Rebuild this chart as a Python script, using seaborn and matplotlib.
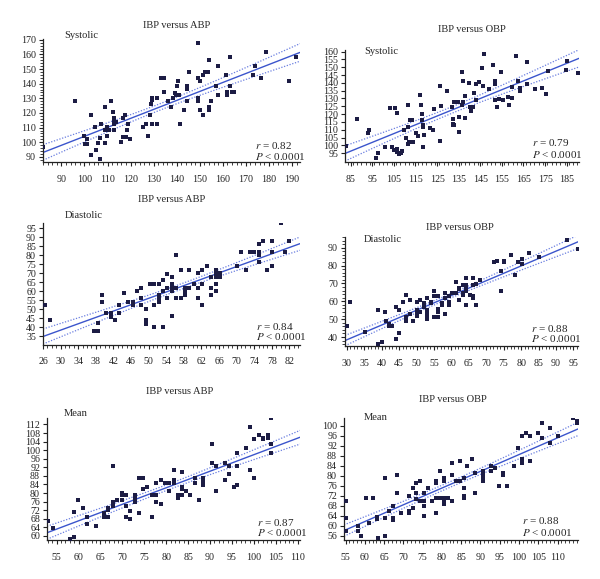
import numpy as np
import pandas as pd
import matplotlib
matplotlib.use("Agg")
import matplotlib.pyplot as plt
from matplotlib.ticker import MultipleLocator
import seaborn as sns

# ------------------------------------------------------------
# data (x = ABP/OBP, y = IBP)
# ------------------------------------------------------------
sys_abp_x = [82.2, 96, 99.8, 100.2, 101, 101, 102.8, 104.7, 105, 102.8, 105.7, 106.7, 106.9, 107,
             108.8, 108.8, 109, 109.6, 109.9, 110.8, 111.6, 112.5, 112.8, 112.9, 112.8, 112.8, 113.7,
             116.7, 116.8, 117.7, 117.9, 118.6, 118.7, 119.6, 115.7, 125.6, 126.6, 127.5, 128.4, 129,
             129.2, 129.5, 129.5, 131.6, 131.4, 133.4, 134.3, 134.5, 136.3, 137.5, 138.3, 139.2, 139.5,
             140.4, 140.2, 141, 141.4, 143.3, 144.3, 144.3, 144.4, 145.3, 149.2, 149.2, 149.2, 149.2,
             150, 150.2, 151.2, 151.5, 152.5, 153.4, 154.2, 154.2, 154.2, 155.1, 157.1, 158, 158.1,
             161.3, 162, 162, 163.2, 163.2, 164, 164.9, 173, 173.8, 176.7, 178.7, 188.7, 191.9]
sys_abp_y = [97, 128.4, 104.5, 98.6, 98.6, 102, 118.4, 110.7, 94.8, 91, 99.5, 88.6, 103, 112.5,
             124, 108.6, 99.5, 104.5, 110.5, 108.6, 128.4, 120.5, 116.6, 115, 112.5, 108.6, 114,
             103.9, 116.4, 118.4, 103.4, 108.4, 112.5, 102.5, 100.5, 110.5, 112.5, 104.5, 118.4, 126.4,
             128.6, 130.2, 112.5, 130.2, 112.5, 144, 144, 134.1, 128.2, 124.3, 130.2, 133.6, 132,
             142, 138.2, 132, 112.5, 122.3, 138.2, 136.4, 128.4, 147.7, 168, 144, 130.2, 128.4,
             142, 122.3, 118.4, 146, 147.7, 147.7, 156, 124.3, 122.3, 128.4, 138.2, 132.3, 152,
             146, 134.1, 132.3, 158, 138.2, 134.1, 134.1, 146, 152, 144, 161.8, 142, 158]

sys_obp_x = [82.8, 87.8, 92.9, 93.5, 96.7, 97.5, 100.7, 103.4, 105.7, 106.6, 104.1, 105.2, 106.3,
             106.6, 107.2, 108.3, 108.8, 109.8, 110.6, 111.4, 111.4, 111.7, 111.9, 112.5, 112.6, 113.4,
             113.7, 115.1, 116.3, 117.1, 117.4, 117.9, 118.2, 118.3, 118.3, 118.5, 119.1, 121.7, 123.3,
             123.4, 126.4, 126.4, 127, 129.4, 131.8, 132.2, 132.2, 132.2, 133, 133, 134.5, 135, 135.2,
             136.7, 136.9, 136.9, 136.4, 137.8, 138.1, 140, 140.3, 140.6, 141.5, 142.1, 142.8, 143,
             144.4, 145.8, 146.4, 146.9, 149, 151, 151.7, 151.8, 152, 152.9, 153.8, 154.8, 155.7,
             157.8, 158.5, 159.7, 159.7, 161.7, 162.6, 163.4, 163.6, 166.6, 166.6, 170.3, 173.4,
             175.4, 176.4, 184.5, 185.3, 190.2]
sys_obp_y = [99.9, 116.9, 108, 109.9, 91.8, 95, 98.8, 124, 124, 120.8, 98.8, 97.3, 96, 97.7, 94.3,
             95, 96.7, 109.9, 104.8, 100.7, 126.1, 112, 102.2, 102.4, 116, 116, 102.4, 107.8, 106,
             132, 126.1, 116, 120.1, 113.1, 112, 98.8, 106.7, 111, 109.9, 123.1, 137.8, 102.9, 125.5,
             135, 124.8, 116.9, 113.9, 112.9, 127.6, 112.9, 127.6, 118, 108.8, 147.2, 141, 127.6,
             126.1, 117.6, 131.8, 140.2, 124.8, 122.3, 124.8, 133.8, 139.3, 128.9, 140.6, 149.3, 138,
             158.3, 136.3, 151.7, 141.2, 139.3, 128.9, 124.8, 129.9, 146.8, 129.3, 131.2, 125.7,
             137.2, 130.6, 157.2, 141, 136.5, 135, 153.2, 139.3, 135.9, 136.8, 132.9, 147.8, 148.1,
             154.2, 146.1]

dia_abp_x = [26.4, 27.6, 37.5, 38.4, 38.4, 39.4, 39.4, 40.4, 41.4, 41.4, 42.4, 43.3, 43.3, 44.4,
             45.3, 46.4, 46.4, 47.3, 48.3, 48.3, 48.3, 49.3, 49.3, 49.3, 50.3, 51.3, 51.3, 51.3, 52.3,
             52.3, 52.3, 52.3, 53.3, 53.3, 53.3, 54.2, 54.2, 54.2, 55.2, 55.2, 55.2, 55.2, 55.2, 56.2,
             56.2, 56.2, 57.3, 57.3, 58.2, 58.2, 58.2, 59.2, 59.2, 60.2, 61.2, 61.2, 61.2, 62.2, 62.2,
             62.2, 63.2, 64.2, 64.2, 64.2, 65.2, 65.2, 65.2, 65.2, 65.2, 66.2, 66.2, 70.1, 71.1, 72.1,
             73.1, 74, 75.1, 75.1, 75.1, 75.1, 76, 77, 78, 78, 78, 80, 81, 82]
dia_abp_y = [52.2, 43.9, 38.1, 38.1, 42.2, 58, 54.1, 48, 48, 45.9, 43.9, 52.2, 48, 58.9, 54.1,
             54.1, 52.2, 60, 62, 56.1, 52.2, 50, 43.9, 42, 64.1, 64.1, 52.2, 40, 64.1, 58.1, 56.1,
             54.1, 60, 66.1, 40, 69.4, 62, 56.1, 68.1, 64.1, 62, 60, 46.1, 80, 62, 56.1, 72, 56.1,
             62, 60, 58.1, 72, 62, 64.1, 70, 62, 56.1, 72, 52.2, 64.1, 74.1, 68.1, 62, 58.1, 72,
             70, 68.1, 64.1, 60, 70, 68.1, 74.1, 82.1, 72, 82.1, 82.1, 86.1, 82.1, 80, 76.1, 88.1,
             72, 88.1, 82.1, 74.1, 98, 82.1, 88.1]

dia_obp_x = [30, 31, 35.1, 39, 39, 40.1, 41.1, 41.3, 42, 42, 43.1, 44.1, 44.1, 45.1, 45.1, 46.1,
             47.1, 47.1, 47.1, 48.1, 48.1, 49.1, 50.1, 50.1, 50.1, 50.1, 51.1, 51.1, 52.1, 52.1, 52.1,
             53.1, 53.1, 53.1, 53.1, 53.1, 53.1, 54.1, 54.1, 55.1, 55.1, 55.1, 56.1, 56.1, 56.1, 56.1,
             57.2, 57.2, 58.1, 58.1, 58.1, 59.2, 59.2, 59.2, 59.2, 60.1, 61.2, 61.2, 62.1, 62.1, 62.1,
             63.2, 63.2, 63.2, 64.1, 64.1, 64.1, 64.1, 64.1, 65.2, 66.1, 66.1, 66.1, 66.1, 67.2, 67.2,
             68.1, 72.2, 73.2, 74.2, 74.2, 75.2, 75.2, 77.2, 78.3, 79.2, 80.2, 80.2, 82.2, 85.2,
             93.1, 96.3]
dia_obp_y = [46, 59.8, 42.6, 54.9, 35.9, 37, 54, 48.8, 47.5, 46.2, 46, 57, 38.9, 54.9, 42.2, 59.8,
             63.7, 51, 48.8, 60.9, 52.9, 48.8, 59.8, 54.9, 54, 51.9, 60.9, 54, 58.8, 57.7, 56.8, 61.8,
             54.9, 52.9, 51.9, 51, 49.9, 59.8, 58.8, 65.9, 62.8, 51, 62.8, 55.9, 54, 51, 58.8, 57.7,
             64.6, 61.8, 52.9, 59.8, 58.8, 57.7, 62.8, 64.6, 70.8, 64.6, 67.6, 66.7, 60.9, 68.9, 64.6,
             63.7, 72.8, 68.9, 66.7, 65.7, 57.9, 63.7, 72.8, 68.9, 62.8, 61.8, 69.9, 57.9, 71.9, 82,
             82.7, 76.8, 65.9, 82.7, 82, 85.9, 74.9, 82, 83.8, 80.9, 86.8, 85, 94.1, 89.1]

mean_abp_x = [53, 54.1, 58, 58.9, 58.9, 59.9, 60.9, 61.9, 61.9, 63.9, 65.9, 65.9, 66.8, 66.8, 66.8,
              67.8, 67.8, 67.8, 68.8, 69.8, 69.8, 69.8, 70.8, 70.8, 70.8, 71.8, 71.8, 72.8, 72.8, 72.8,
              73.8, 73.8, 74.7, 74.7, 75.7, 76.7, 76.7, 77.7, 77.7, 77.7, 78.7, 78.7, 79.6, 80.6, 80.6,
              81.7, 81.7, 81.7, 82.6, 82.6, 83.6, 83.6, 83.6, 83.6, 84.6, 85.5, 86.5, 86.5, 87.5, 88.4,
              88.4, 88.4, 88.4, 90.4, 90.4, 91.4, 91.4, 93.3, 93.3, 94.3, 94.3, 95.4, 96.2, 96.2, 96.2,
              98.2, 99.2, 99.2, 100.1, 100.1, 101.2, 102.1, 102.1, 103.1, 103.1, 104, 104, 104]
mean_abp_y = [66.8, 63.9, 58.7, 59.7, 71, 76.8, 72.9, 68.8, 65.7, 64.6, 70.9, 68.8, 72, 72.9, 68.8,
              92.7, 75.8, 73.8, 76.8, 76.9, 79.1, 79.9, 78.9, 73.8, 68.8, 71.8, 67.7, 78.9, 77.8, 75.8,
              86.8, 70.9, 86.8, 81.9, 82.8, 78.9, 68.8, 84.8, 78.9, 75.8, 85.9, 74.9, 84.8, 84.8, 80.9,
              90.9, 85.9, 84.8, 78.9, 77.8, 89.8, 82.8, 81.9, 78.9, 80.9, 78.9, 86.8, 84.8, 76.9, 86.8,
              85.9, 84.8, 83.9, 103, 93.8, 92.7, 80.9, 93.8, 85.9, 92.7, 88.9, 82.8, 98.8, 92.7, 83.9,
              100.8, 90.9, 110.8, 105, 86.8, 106.9, 105.9, 105, 106.9, 105.9, 114.8, 103, 98.8]

mean_obp_x = [55.1, 55.1, 55.1, 58.3, 58.3, 59.1, 60.2, 61.2, 62.2, 63.2, 63.2, 63.3, 65.3, 65.3,
              65.3, 66.3, 67.3, 67.3, 67.3, 68.4, 68.4, 69.3, 71.4, 71.4, 71.4, 72.4, 72.4, 73.3, 73.3,
              73.3, 74.3, 74.3, 75.4, 75.4, 75.4, 75.4, 76.4, 77.5, 78.4, 78.4, 78.4, 78.4, 79.5, 79.5,
              80.5, 80.5, 80.5, 80.5, 80.5, 81.6, 82.6, 82.6, 82.6, 83.6, 84.7, 84.7, 85.6, 85.6, 85.6,
              85.6, 86.6, 87.7, 88.6, 88.6, 90.7, 90.7, 90.7, 90.7, 90.7, 92.7, 92.7, 93.7, 94.7, 95.8,
              95.8, 96.8, 98.8, 99.8, 100.8, 100.8, 100.8, 101.9, 102.8, 102.8, 104.9, 105.9, 105.9,
              108, 108, 110, 114.1, 115.1, 115.1]
mean_obp_y = [70, 63, 58, 59.8, 58, 56.1, 71, 61.3, 71, 63.7, 62.8, 55, 79, 63, 56.1, 66, 68.1, 63,
              62.2, 80.2, 73, 65, 71.9, 66, 65, 67.1, 75.3, 77, 73, 70.9, 78.1, 70, 73, 70, 68.1, 64.1,
              75, 70, 78.1, 77, 71, 65, 81.9, 71, 79, 78.1, 71, 70, 68.9, 71, 85, 80.2, 70, 78.1, 85.9,
              78.1, 79, 75, 71.9, 71, 83.9, 86.8, 81, 73, 81.9, 81, 80.2, 79, 78.1, 83.9, 81.9, 83,
              75.9, 81, 80.2, 75.9, 83.9, 91, 96, 86.8, 85, 96.9, 96, 85.9, 96.9, 100.9, 94.9, 98.9,
              93.1, 96, 102.9, 101.9, 100.9]

titles = ['IBP versus ABP', 'IBP versus OBP'] * 3
labels = ['Systolic', 'Systolic', 'Diastolic', 'Diastolic', 'Mean', 'Mean']
r_text = ['0.82', '0.79', '0.84', '0.88', '0.87', '0.88']

# ------------------------------------------------------------
# style
# ------------------------------------------------------------
sns.set_style("ticks")
plt.rcParams['font.family'] = ['Liberation Serif', 'DejaVu Serif']
plt.rcParams['mathtext.fontset'] = 'stix'

W, H = 600, 579
fig = plt.figure(figsize=(W / 100, H / 100), dpi=100)

def px_box(l, r, t, b):
    return [l / W, 1 - b / H, (r - l) / W, (b - t) / H]

# panel settings: box (px), limits, major/minor tick steps, text positions (px)
panels = [
    dict(x=sys_abp_x, y=sys_abp_y, box=(43, 300, 39, 162), xlim=(82, 193.5), ylim=(86.5, 170.5),
         xt=np.arange(90, 191, 10), yt=np.arange(90, 171, 10), xm=2, ym=2,
         title=(177, 26), lab=(64, 36), rtxt=(255, 146)),
    dict(x=sys_obp_x, y=sys_obp_y, box=(345, 579, 50, 162), xlim=(82.4, 190.7), ylim=(89.4, 161),
         xt=np.arange(85, 186, 10), yt=np.arange(95, 161, 5), xm=2, ym=None,
         title=(472, 30), lab=(364, 52), rtxt=(532, 143)),
    dict(x=dia_abp_x, y=dia_abp_y, box=(43, 300, 223, 345), xlim=(26, 84.4), ylim=(30.2, 98),
         xt=np.arange(26, 83, 4), yt=np.arange(35, 96, 5), xm=1, ym=None,
         title=(172, 200), lab=(65, 216), rtxt=(256, 326)),
    dict(x=dia_obp_x, y=dia_obp_y, box=(345, 578, 237, 346), xlim=(29.5, 96.3), ylim=(35, 96),
         xt=np.arange(30, 96, 5), yt=np.arange(40, 91, 10), xm=1, ym=2,
         title=(460, 227), lab=(364, 239), rtxt=(531, 328)),
    dict(x=mean_abp_x, y=mean_abp_y, box=(47, 300, 418, 540), xlim=(52.8, 110.5), ylim=(58.1, 115),
         xt=np.arange(55, 111, 5), yt=np.arange(60, 113, 4), xm=1, ym=None,
         title=(180, 392), lab=(64, 414), rtxt=(257, 522)),
    dict(x=mean_obp_x, y=mean_obp_y, box=(344, 578, 418, 540), xlim=(54.6, 115.3), ylim=(54.4, 103),
         xt=np.arange(55, 111, 5), yt=np.arange(56, 101, 4), xm=1, ym=None,
         title=(453, 400), lab=(364, 418), rtxt=(522, 521)),
]

point_col = '#1c1c44'
line_col = '#3b55cc'
band_col = '#6a7ee0'

for i, p in enumerate(panels):
    ax = fig.add_axes(px_box(*p['box']))
    df = pd.DataFrame({'x': p['x'], 'y': p['y']})
    sns.scatterplot(data=df, x='x', y='y', marker='s', s=9, color=point_col,
                    linewidth=0, ax=ax, zorder=3)

    # regression line with 95% confidence band as dotted lines
    b1, b0 = np.polyfit(df['x'], df['y'], 1)
    n = len(df)
    resid = df['y'] - (b0 + b1 * df['x'])
    s = np.sqrt((resid ** 2).sum() / (n - 2))
    sxx = ((df['x'] - df['x'].mean()) ** 2).sum()
    xx = np.linspace(p['xlim'][0], p['xlim'][1], 100)
    yy = b0 + b1 * xx
    se = s * np.sqrt(1 / n + (xx - df['x'].mean()) ** 2 / sxx)
    ax.plot(xx, yy, color=line_col, lw=1.0, zorder=2)
    ax.plot(xx, yy + 1.98 * se, color=band_col, lw=0.9, ls=(0, (1, 1.3)), zorder=2)
    ax.plot(xx, yy - 1.98 * se, color=band_col, lw=0.9, ls=(0, (1, 1.3)), zorder=2)

    ax.set_xlim(*p['xlim'])
    ax.set_ylim(*p['ylim'])
    ax.set_xticks(p['xt'])
    ax.set_yticks(p['yt'])
    ax.xaxis.set_minor_locator(MultipleLocator(p['xm']))
    if p['ym']:
        ax.yaxis.set_minor_locator(MultipleLocator(p['ym']))
    ax.set_xlabel('')
    ax.set_ylabel('')
    ax.tick_params(which='major', length=3, width=0.8, labelsize=7.2, pad=2, colors='#222222')
    ax.tick_params(axis='x', which='major', pad=6)
    ax.tick_params(which='minor', length=2, width=0.6, colors='#222222')
    for side in ['left', 'bottom']:
        ax.spines[side].set_linewidth(0.9)
        ax.spines[side].set_color('#222222')
    sns.despine(ax=ax)

    tx, ty = p['title']
    fig.text(tx / W, 1 - ty / H, titles[i], ha='center', va='center', fontsize=7.6)
    lx, ly = p['lab']
    fig.text(lx / W, 1 - ly / H, labels[i], ha='left', va='center', fontsize=7.6)
    rx, ry = p['rtxt']
    fig.text(rx / W, 1 - ry / H, '$r$ = ' + r_text[i], ha='left', va='center', fontsize=8)
    fig.text(rx / W, 1 - (ry + 11) / H, '$P$ < 0.0001', ha='left', va='center', fontsize=8)

plt.savefig('out.png', dpi=100)
plt.close()
